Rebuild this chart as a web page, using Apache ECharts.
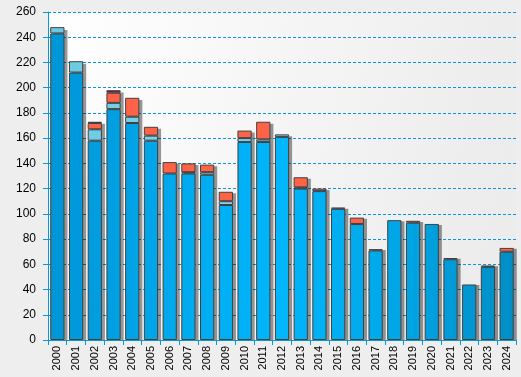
<!DOCTYPE html>
<html>
<head>
<meta charset="utf-8">
<script src="https://cdn.jsdelivr.net/npm/echarts@6/dist/echarts.min.js"></script>
<style>
  html, body { margin: 0; padding: 0; background: #eeeeee; }
  #chart { width: 521px; height: 377px; }
</style>
</head>
<body>
<div id="chart"></div>
<script>
const years = ['2000', '2001', '2002', '2003', '2004', '2005', '2006', '2007', '2008', '2009',
  '2010', '2011', '2012', '2013', '2014', '2015', '2016', '2017', '2018', '2019',
  '2020', '2021', '2022', '2023', '2024']
const mainVals = [243, 212, 158, 183, 172, 158, 132, 132, 131, 107, 157, 157, 161, 120, 118, 104, 92, 71, 95, 93, 92, 64, 44, 58, 70]
const lightVals = [5, 9, 9, 5, 5, 4, 0, 1, 2, 3, 3, 2, 2, 1, 0, 1, 0, 1, 0, 0, 0, 1, 0, 1, 0]
const redVals = [0, 0, 5, 8, 15, 7, 9, 7, 6, 7.5, 6, 14, 0, 8, 2, 0, 5, 0, 0, 1.5, 0, 0, 0, 0, 3]
const darkVals = [0, 0, 1, 2, 0, 0, 0, 0, 0, 0, 0, 0, 0, 0, 0, 0, 0, 0, 0, 0, 0, 0, 0, 0, 0]
const yTicks = { min: 0, max: 260, step: 20 }

const AXIS_BLUE = '#0a96d8'
const BORDER = '#404040'

// totals for the drop shadow behind each stack
const totals = years.map((_, i) => mainVals[i] + lightVals[i] + redVals[i] + darkVals[i])

const hGrad = (stops) => ({
  type: 'linear', x: 48, y: 0, x2: 516, y2: 0, global: true,
  colorStops: stops.map((c, i) => ({ offset: i / (stops.length - 1), color: c }))
})

const makeSeries = (name, vals, color) => ({
  name,
  type: 'bar',
  stack: 'total',
  barWidth: '76%',
  z: 3,
  itemStyle: { color, borderColor: BORDER, borderWidth: 1 },
  emphasis: { disabled: true },
  data: vals.map(v => (v ? v : '-'))
})

const chart = echarts.init(document.getElementById('chart'), null, { renderer: 'canvas' })
chart.setOption({
  animation: false,
  backgroundColor: '#eeeeee',
  textStyle: { fontFamily: 'Liberation Sans, Arial, sans-serif' },
  grid: [{
    left: 48, right: 5, top: 12, bottom: 37,
    show: true,
    borderWidth: 0,
    backgroundColor: {
      type: 'linear', x: 0, y: 0, x2: 1, y2: 0.3,
      colorStops: [
        { offset: 0, color: '#ffffff' },
        { offset: 1, color: '#ececec' }
      ]
    }
  }, {
    // same plot shifted 3px right/down, only used for the bar shadows
    left: 51, right: 2, top: 15, bottom: 37, show: false
  }],
  xAxis: [{
    type: 'category',
    data: years,
    axisLine: { lineStyle: { color: AXIS_BLUE, width: 1 } },
    axisTick: { show: true, length: 5, lineStyle: { color: AXIS_BLUE } },
    axisLabel: { rotate: 90, margin: 6, color: '#000', fontSize: 11, interval: 0 },
    z: 4
  }, {
    type: 'category', gridIndex: 1, data: years, show: false
  }],
  yAxis: [{
    type: 'value',
    min: yTicks.min,
    max: yTicks.max,
    interval: yTicks.step,
    axisLine: { show: true, lineStyle: { color: AXIS_BLUE, width: 1 } },
    axisTick: { show: true, length: 5, lineStyle: { color: AXIS_BLUE } },
    axisLabel: { margin: 12, color: '#000', fontSize: 12 },
    splitLine: { show: true, lineStyle: { color: AXIS_BLUE, type: [3, 2], width: 1 } }
  }, {
    type: 'value', gridIndex: 1, min: yTicks.min, max: yTicks.max, show: false
  }],
  series: [
    {
      name: 'shadow', type: 'bar', xAxisIndex: 1, yAxisIndex: 1, barWidth: '76%', z: 2,
      itemStyle: { color: 'rgba(0,0,0,0.4)' }, silent: true, data: totals
    },
    makeSeries('main', mainVals, hGrad(['#0095d6', '#00a8ec', '#00b6fc', '#00a6e6', '#008dc6'])),
    makeSeries('light', lightVals, hGrad(['#6cc6de', '#78d4f0', '#80dcfc', '#78d2f0', '#6cc2dc'])),
    makeSeries('red', redVals, '#ff6347'),
    makeSeries('dark', darkVals, '#8a1040')
  ]
})
</script>
</body>
</html>
